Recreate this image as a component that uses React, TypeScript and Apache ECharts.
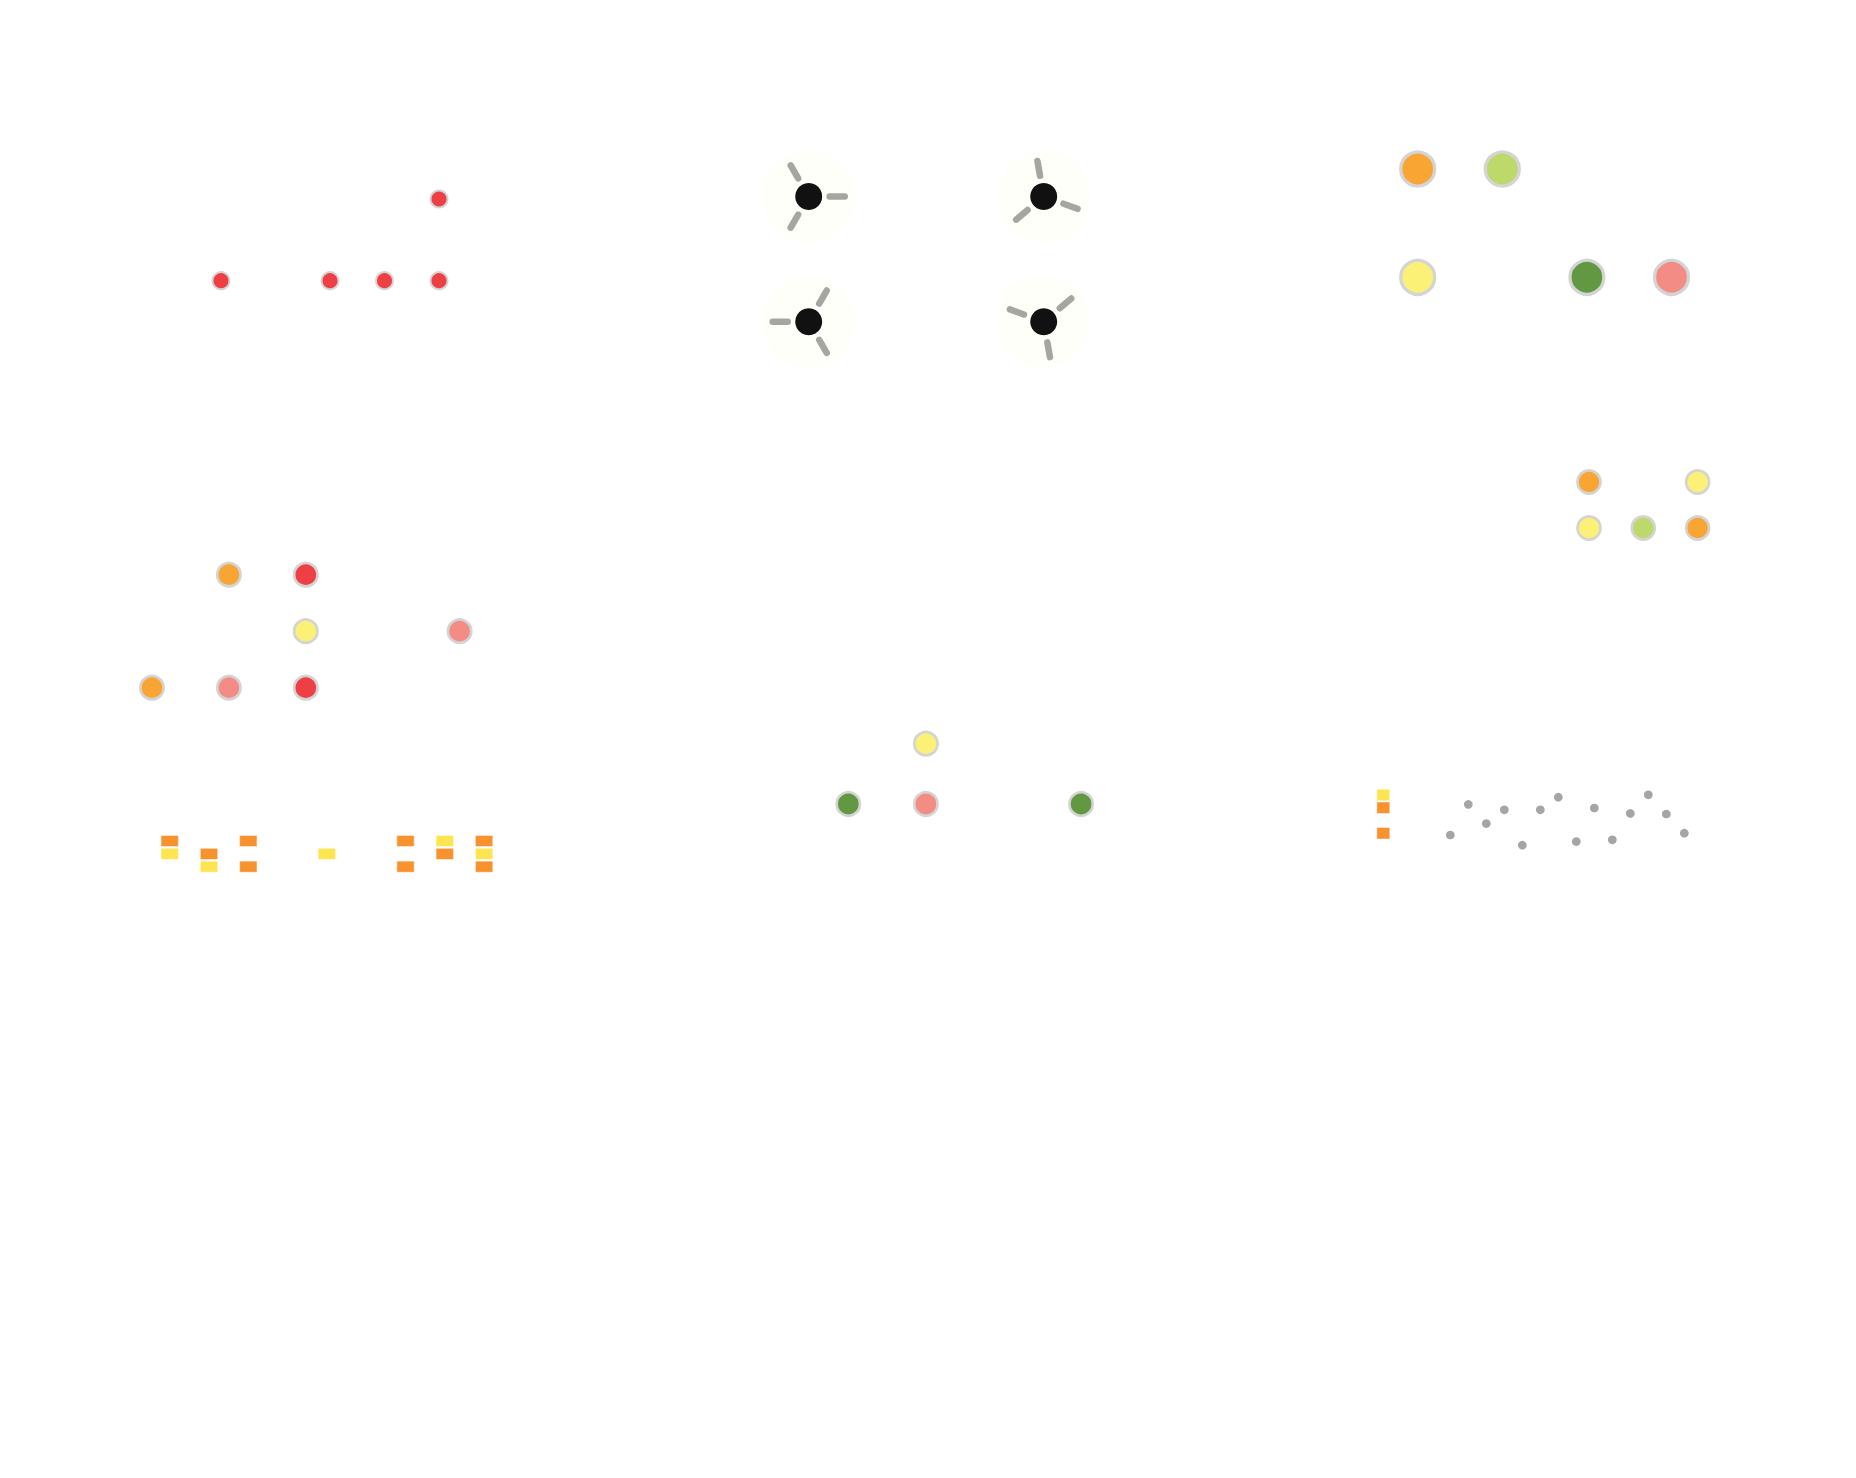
import React, { useEffect, useRef } from "react";
import * as echarts from "echarts";

// ---------- palette ----------
const COLORS: Record<string, string> = {
  red: "#EE4044",
  orange: "#F9A533",
  lime: "#BCD96A",
  yellow: "#FBF177",
  green: "#629841",
  pink: "#F48C86",
  rectOrange: "#F8922E",
  rectYellow: "#FDE451",
  gray: "#A5A5A3",
};

// ---------- data ----------
// Panel A: red dots [col, row]
const dotsA: [number, number][] = [
  [4, 0],
  [0, 1],
  [2, 1],
  [3, 1],
  [4, 1],
];

// Panel B: glyphs [col, row, rotation in degrees]
const glyphsB: [number, number, number][] = [
  [0, 0, 0],
  [1, 0, 100],
  [0, 1, 60],
  [1, 1, 40],
];

// Panel C: large circles [col, row, colour]
const circlesC: [number, number, string][] = [
  [0, 0, "orange"],
  [1, 0, "lime"],
  [0, 1, "yellow"],
  [2, 1, "green"],
  [3, 1, "pink"],
];

// Panel D: small circles [col, row, colour]
const circlesD: [number, number, string][] = [
  [0, 0, "orange"],
  [2, 0, "yellow"],
  [0, 1, "yellow"],
  [1, 1, "lime"],
  [2, 1, "orange"],
];

// Panel E: circles [col, row, colour]
const circlesE: [number, number, string][] = [
  [1, 0, "orange"],
  [2, 0, "red"],
  [2, 1, "yellow"],
  [4, 1, "pink"],
  [0, 2, "orange"],
  [1, 2, "pink"],
  [2, 2, "red"],
];

// Panel F: circles [col, row, colour]
const circlesF: [number, number, string][] = [
  [1, 0, "yellow"],
  [0, 1, "green"],
  [1, 1, "pink"],
  [3, 1, "green"],
];

// Panel G: tiles [col, row, colour]
const tilesG: [number, number, string][] = [
  [0, 0, "rectOrange"],
  [0, 1, "rectYellow"],
  [1, 1, "rectOrange"],
  [1, 2, "rectYellow"],
  [2, 0, "rectOrange"],
  [2, 2, "rectOrange"],
  [4, 1, "rectYellow"],
  [6, 0, "rectOrange"],
  [6, 2, "rectOrange"],
  [7, 0, "rectYellow"],
  [7, 1, "rectOrange"],
  [8, 0, "rectOrange"],
  [8, 1, "rectYellow"],
  [8, 2, "rectOrange"],
];

// Panel H: key tiles [row, colour] and gray dot values
const keyH: [number, string][] = [
  [0, "rectYellow"],
  [1, "rectOrange"],
  [3, "rectOrange"],
];
const dotValuesH: number[] = [25, 76, 44, 67, 8, 67, 88, 14, 70, 17, 61, 92, 60, 28];

// ---------- layout helpers ----------
type GridSpec = { x0: number; dx: number; nx: number; y0: number; dy: number; ny: number };

function gridBox(g: GridSpec) {
  return {
    left: g.x0 - g.dx / 2,
    width: g.dx * g.nx,
    top: g.y0 - g.dy / 2,
    height: g.dy * g.ny,
    containLabel: false,
  };
}

const LAYOUT: Record<string, GridSpec> = {
  A: { x0: 221, dx: 54.5, nx: 5, y0: 199, dy: 81.7, ny: 2 },
  B: { x0: 808.7, dx: 235, nx: 2, y0: 196.5, dy: 125.2, ny: 2 },
  C: { x0: 1417.7, dx: 84.6, nx: 4, y0: 169, dy: 108.3, ny: 2 },
  D: { x0: 1589, dx: 54.3, nx: 3, y0: 482, dy: 46, ny: 2 },
  E: { x0: 152, dx: 76.9, nx: 5, y0: 574.7, dy: 56.5, ny: 3 },
  F: { x0: 848.3, dx: 77.6, nx: 4, y0: 743.7, dy: 60.3, ny: 2 },
  G: { x0: 169.7, dx: 39.3, nx: 9, y0: 841, dy: 12.85, ny: 3 },
  K: { x0: 1383.3, dx: 20, nx: 1, y0: 795, dy: 12.75, ny: 4 },
};

const BORDER = "#D4D4D4";

function circleData(points: [number, number, string][]) {
  return points.map(([c, r, k]) => ({ value: [c, r], itemStyle: { color: COLORS[k] } }));
}

export default function App() {
  const ref = useRef<HTMLDivElement>(null);

  useEffect(() => {
    if (!ref.current) return;
    const chart = echarts.init(ref.current, undefined, { renderer: "svg" });

    const keys = ["A", "B", "C", "D", "E", "F", "G", "K"];
    const grids: any[] = keys.map((k) => gridBox(LAYOUT[k]));
    const xAxes: any[] = keys.map((k, i) => ({
      type: "value",
      gridIndex: i,
      min: -0.5,
      max: LAYOUT[k].nx - 0.5,
      show: false,
    }));
    const yAxes: any[] = keys.map((k, i) => ({
      type: "value",
      gridIndex: i,
      min: -0.5,
      max: LAYOUT[k].ny - 0.5,
      inverse: true,
      show: false,
    }));

    // gray dot panel (index 8)
    grids.push({ left: 1441.3, width: 18 * dotValuesH.length, top: 790, height: 60 });
    xAxes.push({ type: "value", gridIndex: 8, min: -0.5, max: dotValuesH.length - 0.5, show: false });
    yAxes.push({ type: "value", gridIndex: 8, min: 0, max: 100, show: false });

    const series: any[] = [
      {
        type: "scatter",
        xAxisIndex: 0,
        yAxisIndex: 0,
        symbolSize: 17,
        itemStyle: { color: COLORS.red, borderColor: BORDER, borderWidth: 2, opacity: 1 },
        data: dotsA.map(([c, r]) => [c, r]),
      },
      {
        type: "custom",
        xAxisIndex: 1,
        yAxisIndex: 1,
        data: glyphsB,
        renderItem: (_params: any, api: any) => {
          const p = api.coord([api.value(0), api.value(1)]);
          const cx = p[0];
          const cy = p[1];
          const rot = (api.value(2) * Math.PI) / 180;
          const children: any[] = [
            { type: "circle", shape: { cx, cy, r: 46.5 }, style: { fill: "#FFFFFA" } },
          ];
          for (let i = 0; i < 3; i++) {
            const a = rot + (i * 2 * Math.PI) / 3;
            children.push({
              type: "line",
              shape: {
                x1: cx + 21 * Math.cos(a),
                y1: cy - 21 * Math.sin(a),
                x2: cx + 36 * Math.cos(a),
                y2: cy - 36 * Math.sin(a),
              },
              style: { stroke: "#A5A5A1", lineWidth: 6.5, lineCap: "round" },
            });
          }
          children.push({ type: "circle", shape: { cx, cy, r: 13.5 }, style: { fill: "#111111" } });
          return { type: "group", children };
        },
      },
      {
        type: "scatter",
        xAxisIndex: 2,
        yAxisIndex: 2,
        symbolSize: 34,
        itemStyle: { borderColor: BORDER, borderWidth: 3.3, opacity: 1 },
        data: circleData(circlesC),
      },
      {
        type: "scatter",
        xAxisIndex: 3,
        yAxisIndex: 3,
        symbolSize: 23,
        itemStyle: { borderColor: BORDER, borderWidth: 2.7, opacity: 1 },
        data: circleData(circlesD),
      },
      {
        type: "scatter",
        xAxisIndex: 4,
        yAxisIndex: 4,
        symbolSize: 23.3,
        itemStyle: { borderColor: BORDER, borderWidth: 2.7, opacity: 1 },
        data: circleData(circlesE),
      },
      {
        type: "scatter",
        xAxisIndex: 5,
        yAxisIndex: 5,
        symbolSize: 23.3,
        itemStyle: { borderColor: BORDER, borderWidth: 2.7, opacity: 1 },
        data: circleData(circlesF),
      },
      {
        type: "scatter",
        xAxisIndex: 6,
        yAxisIndex: 6,
        symbol: "rect",
        symbolSize: [17.5, 11],
        itemStyle: { borderColor: "rgba(255,255,255,0.45)", borderWidth: 1, opacity: 1 },
        data: circleData(tilesG),
      },
      {
        type: "scatter",
        xAxisIndex: 7,
        yAxisIndex: 7,
        symbol: "rect",
        symbolSize: [13, 11.5],
        itemStyle: { borderColor: "rgba(255,255,255,0.45)", borderWidth: 1, opacity: 1 },
        data: keyH.map(([r, k]) => ({ value: [0, r], itemStyle: { color: COLORS[k] } })),
      },
      {
        type: "scatter",
        xAxisIndex: 8,
        yAxisIndex: 8,
        symbolSize: 8.7,
        itemStyle: { color: COLORS.gray, opacity: 1 },
        data: dotValuesH.map((v, i) => [i, v]),
      },
    ];

    chart.setOption({
      animation: false,
      backgroundColor: "#ffffff",
      grid: grids,
      xAxis: xAxes,
      yAxis: yAxes,
      series,
    });

    return () => {
      chart.dispose();
    };
  }, []);

  return (
    <div
      ref={ref}
      style={{ position: "absolute", left: 0, top: 0, width: 1856, height: 1478 }}
    />
  );
}
